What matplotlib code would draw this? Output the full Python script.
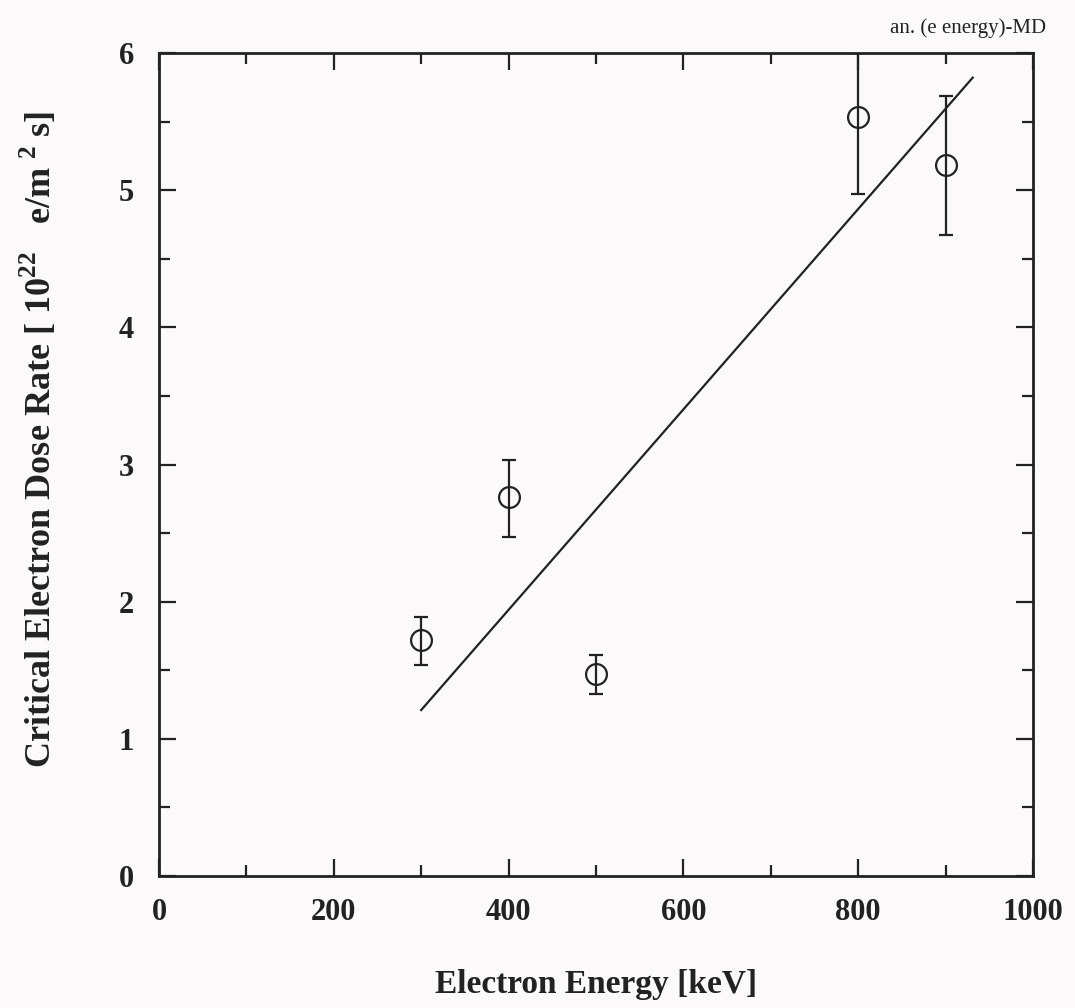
import numpy as np
import matplotlib; matplotlib.use("Agg")
import matplotlib.pyplot as plt

# data
energy = [300, 400, 500, 800, 900]          # keV
dose = [1.72, 2.76, 1.47, 5.53, 5.18]       # 1e22 e/m^2 s
err_lo = [0.18, 0.29, 0.14, 0.56, 0.51]
err_hi = [0.17, 0.27, 0.14, 0.47, 0.51]
fit_x = [300, 931]
fit_y = [1.21, 5.82]

plt.rcParams['font.family'] = ['Liberation Serif', 'DejaVu Serif']
plt.rcParams['mathtext.fontset'] = 'custom'
plt.rcParams['mathtext.rm'] = 'Liberation Serif:bold'
plt.rcParams['mathtext.bf'] = 'Liberation Serif:bold'

fig = plt.figure(figsize=(10.75, 10.08), dpi=100, facecolor="#fbf9fa")
ax = fig.add_axes([159/1075, 1-876/1008, (1033-159)/1075, (876-53)/1008])
ax.set_facecolor("#fbf9fa")

ax.errorbar(energy, dose, yerr=[err_lo, err_hi], fmt="o", ms=15, mfc="none",
            mec="#222", mew=1.6, ecolor="#222", elinewidth=1.6, capsize=5, capthick=1.8)
ax.plot(fit_x, fit_y, color="#222", lw=1.6)

ax.set_xlim(0, 1000); ax.set_ylim(0, 6)
ax.set_xticks(np.arange(0, 1001, 200)); ax.set_xticks(np.arange(0, 1001, 100), minor=True)
ax.set_yticks(np.arange(0, 7, 1)); ax.set_yticks(np.arange(0, 6.01, 0.5), minor=True)
ax.tick_params(which="both", direction="in", top=True, right=True, width=1.6, color="#222")
ax.tick_params(which="major", length=12, labelsize=22)
ax.tick_params(axis="x", which="major", pad=16)
ax.tick_params(axis="y", which="major", pad=18)
ax.tick_params(which="minor", length=8)
for lab in ax.get_xticklabels() + ax.get_yticklabels():
    lab.set_fontweight("bold"); lab.set_color("#222")
for s in ax.spines.values():
    s.set_linewidth(2); s.set_color("#222")

ax.set_xlabel("Electron Energy [keV]", fontsize=24, fontweight="bold", color="#222")
ax.xaxis.set_label_coords(0.5, -(985-876)/823, transform=ax.transAxes)
ax.xaxis.label.set_va("center")
ax.set_ylabel(r"Critical Electron Dose Rate [ 10$^{\mathbf{22}}$   e/m$^{\mathbf{\ 2}}$ s]",
              fontsize=26, fontweight="bold", color="#222")
ax.yaxis.set_label_coords(-100/874, 0.53)
fig.text(1046/1075, 1-28/1008, "an. (e energy)-MD", ha="right", va="center", fontsize=15, color="#222")

fig.savefig("out.png", dpi=100, facecolor=fig.get_facecolor())
